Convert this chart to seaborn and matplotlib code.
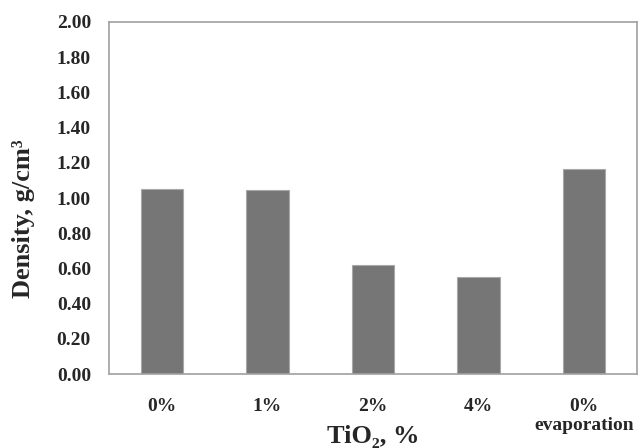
import matplotlib
matplotlib.use("Agg")
import matplotlib.pyplot as plt
import numpy as np
import pandas as pd
import seaborn as sns

categories = ["0%", "1%", "2%", "4%", "0%\nevaporation"]
density = [1.05, 1.045, 0.62, 0.553, 1.162]
yticks = [0.0, 0.2, 0.4, 0.6, 0.8, 1.0, 1.2, 1.4, 1.6, 1.8, 2.0]

sns.set_theme(style="white")
plt.rcParams['font.family'] = ['Liberation Serif', 'DejaVu Serif']
plt.rcParams['font.weight'] = 'bold'

df = pd.DataFrame({"cat": categories, "density": density})

fig = plt.figure(figsize=(6.39, 4.48), dpi=100)
ax = fig.add_axes([109 / 639, 1 - 374 / 448, 528 / 639, 352 / 448])

sns.barplot(data=df, x="cat", y="density", color="#767676", width=0.4,
            edgecolor="#a8a8a8", linewidth=0.8, saturation=1, ax=ax)

ax.set_xlim(-0.5, 4.5)
ax.set_ylim(0, 2.0)
ax.set_yticks(yticks)
ax.set_yticklabels([f"{v:.2f}" for v in yticks], fontsize=14, fontweight='bold')
ax.set_xticks(range(len(categories)))
ax.set_xticklabels(categories, fontsize=14, fontweight='bold', va='top',
                   linespacing=1.15)
ax.tick_params(axis='x', length=0, pad=17)
ax.tick_params(axis='y', length=3, width=0.8, color="#a0a0a0", pad=10, direction='out')

for s in ax.spines.values():
    s.set_color("#a0a0a0")
    s.set_linewidth(1.2)
    s.set_visible(True)

ax.set_xlabel("TiO\u2082, %", fontsize=19, fontweight='bold')
ax.xaxis.set_label_coords(0.5, -0.145)
ax.set_ylabel("Density, g/cm\u00b3", fontsize=19, fontweight='bold')
ax.yaxis.set_label_coords(-0.14, 0.44)

fig.savefig("out.png", dpi=100)
